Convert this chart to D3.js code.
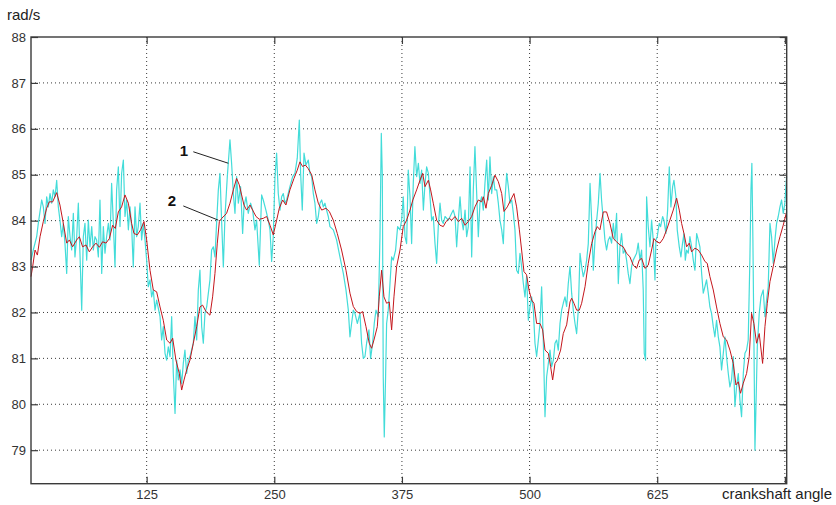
<!DOCTYPE html>
<html>
<head>
<meta charset="utf-8">
<script src="https://cdn.jsdelivr.net/npm/d3@7.9.0/dist/d3.min.js"></script>
<style>
  body { margin: 0; background: #fff; }
  svg { display: block; font-family: "Liberation Sans", Arial, sans-serif; }
</style>
</head>
<body>
<svg id="chart" width="836" height="505"></svg>
<script>
// measured speed (1), [crankshaft angle, rad/s]
const measured = [
  [11.75,83.14],[14.0,83.36],[17.3,83.65],[18.9,83.94],[22.2,84.45],[23.8,84.30],[25.5,83.94],[27.1,84.52],
  [28.7,84.30],[30.4,84.59],[32.0,84.38],[33.6,84.67],[35.3,84.52],[36.9,84.88],[38.5,84.30],[40.1,84.01],
  [41.8,83.65],[43.4,83.94],[45.0,83.51],[46.7,82.85],[48.3,84.09],[50.0,83.65],[51.6,83.36],[53.2,84.16],
  [54.8,83.21],[56.5,83.65],[58.1,84.38],[59.7,83.29],[61.4,82.05],[63.0,83.65],[64.6,83.94],[66.3,83.14],
  [67.9,84.01],[69.5,83.43],[71.2,83.87],[72.8,83.36],[74.4,83.65],[76.0,83.58],[77.7,83.21],[79.3,84.45],
  [81.0,82.85],[82.6,83.87],[84.2,83.29],[85.8,83.65],[87.5,83.94],[89.1,83.58],[90.7,84.81],[92.4,83.94],
  [94.0,82.99],[95.6,84.67],[97.3,85.17],[98.9,83.87],[100.5,85.03],[102.2,85.32],[103.8,84.09],[105.4,84.45],
  [107.1,83.80],[108.7,84.30],[110.3,83.87],[111.9,82.99],[113.6,84.30],[115.2,83.65],[116.8,83.87],[118.5,84.38],
  [120.1,83.58],[121.7,83.94],[123.4,83.58],[125.0,83.14],[126.6,82.56],[128.3,82.71],[129.9,82.34],[131.5,82.49],
  [133.2,82.05],[134.8,82.27],[138.1,81.91],[139.7,81.40],[141.3,81.69],[143.0,81.11],[144.6,80.96],[146.2,81.25],
  [147.9,81.04],[149.5,81.91],[151.1,80.67],[152.8,79.80],[154.4,80.96],[156.0,80.53],[157.7,80.75],[159.3,80.45],
  [160.9,80.89],[162.5,81.18],[164.2,80.67],[165.8,80.96],[167.4,81.04],[170.7,81.33],[172.3,81.91],[174.0,81.40],
  [175.6,82.49],[177.2,82.92],[178.9,81.69],[180.5,81.33],[182.1,81.98],[183.8,82.12],[187.0,82.71],[188.6,83.36],
  [190.3,83.43],[191.9,83.21],[193.5,83.94],[195.2,84.67],[196.8,85.03],[198.4,84.01],[200.1,82.99],[201.7,84.09],
  [204.0,84.96],[206.6,85.76],[208.2,85.25],[209.9,84.59],[211.5,84.16],[213.1,84.96],[214.8,84.38],[217.0,84.74],
  [219.0,83.72],[220.3,84.30],[222.3,84.52],[224.5,84.16],[226.8,84.38],[228.8,84.23],[231.1,83.80],[232.7,84.01],
  [235.3,83.03],[237.6,84.56],[239.2,84.45],[241.8,84.23],[244.1,84.01],[245.8,83.80],[247.4,83.11],[249.0,83.65],
  [250.7,84.96],[252.3,85.47],[253.9,84.59],[255.6,84.23],[257.2,84.52],[258.8,84.59],[260.5,84.38],[262.1,84.45],
  [265.3,84.74],[268.0,84.96],[270.2,85.03],[272.5,85.36],[274.5,86.19],[275.8,85.03],[277.4,84.23],[279.1,85.47],
  [281.0,85.21],[283.3,85.32],[284.9,85.03],[286.6,84.96],[288.2,84.59],[289.8,84.38],[291.5,83.94],[293.1,84.09],
  [294.7,84.38],[296.4,84.45],[298.0,84.30],[299.6,84.38],[301.2,84.23],[302.9,84.09],[304.5,83.87],[307.8,83.80],
  [311.0,83.58],[314.3,83.21],[317.6,82.85],[320.2,82.49],[322.5,82.05],[324.1,81.47],[325.7,81.76],[327.4,82.05],
  [329.0,81.98],[331.3,81.76],[333.9,81.98],[335.5,81.33],[337.2,81.00],[338.8,81.04],[340.4,81.33],[342.7,81.62],
  [344.3,81.00],[346.3,81.33],[347.9,81.76],[349.6,82.05],[351.8,81.91],[353.5,83.65],[354.8,85.90],[355.8,84.96],
  [356.7,80.60],[357.7,79.29],[359.0,80.60],[360.0,81.76],[361.6,82.05],[363.3,82.63],[364.9,83.21],[366.5,83.14],
  [368.8,83.36],[370.8,83.87],[373.1,83.80],[374.7,84.01],[376.3,84.52],[378.0,83.65],[379.6,83.50],[381.2,85.10],
  [382.9,84.52],[384.5,83.50],[386.1,84.81],[387.7,85.61],[389.4,84.96],[391.1,85.25],[392.7,84.81],[394.3,85.10],
  [396.0,84.23],[397.6,84.81],[399.2,85.17],[400.9,85.03],[402.5,84.52],[404.1,84.01],[405.7,84.09],[407.4,83.50],
  [409.0,83.07],[410.6,83.87],[412.3,84.38],[413.9,84.01],[415.5,83.94],[417.2,84.09],[420.4,84.01],[423.7,84.16],
  [425.3,84.23],[427.0,84.09],[428.6,83.43],[430.2,84.01],[431.9,84.52],[433.5,84.01],[435.1,83.80],[436.8,84.23],
  [438.4,83.65],[440.0,83.87],[441.7,85.17],[443.3,83.21],[444.9,84.67],[446.5,85.61],[448.2,84.59],[449.8,83.65],
  [451.4,84.38],[453.1,84.52],[454.7,84.23],[456.3,84.81],[458.0,85.32],[459.6,84.45],[461.2,85.39],[462.9,84.59],
  [464.5,84.96],[466.1,84.67],[467.8,84.67],[469.4,84.38],[471.0,84.01],[472.7,83.80],[474.3,83.50],[475.9,84.45],
  [477.6,85.03],[479.2,84.74],[480.8,84.38],[482.5,84.45],[484.1,84.16],[485.7,83.80],[487.3,82.92],[489.0,82.85],
  [490.6,83.29],[492.2,83.00],[493.9,82.63],[495.5,82.34],[497.1,82.78],[498.8,81.83],[500.4,82.12],[502.0,82.34],
  [503.7,82.05],[505.3,81.33],[506.9,81.04],[508.6,81.40],[510.2,81.76],[511.8,82.56],[513.5,81.33],[515.1,79.73],
  [516.7,80.60],[518.4,80.89],[520.0,81.18],[521.6,80.82],[523.3,80.96],[524.9,81.33],[526.5,81.40],[528.1,81.18],
  [529.8,81.76],[531.4,82.05],[533.0,82.20],[534.7,82.34],[536.3,82.13],[537.9,82.63],[539.6,83.00],[541.2,82.42],
  [542.8,82.05],[544.5,81.76],[546.1,81.54],[547.7,82.05],[549.4,83.29],[551.0,83.00],[552.6,82.78],[554.3,82.92],
  [555.9,83.14],[557.5,83.50],[559.2,84.81],[560.8,84.01],[562.4,82.92],[564.1,83.58],[565.7,84.01],[567.3,84.38],
  [569.0,85.03],[570.5,84.45],[572.2,84.01],[573.8,83.58],[575.4,83.36],[577.1,83.58],[578.7,83.65],[580.3,83.51],
  [582.0,83.94],[583.6,83.58],[585.2,84.16],[586.9,82.63],[588.5,83.43],[590.1,83.72],[591.7,83.29],[593.4,83.36],
  [595.0,83.14],[596.6,82.85],[598.3,82.63],[599.9,83.00],[601.5,83.14],[604.8,83.29],[606.4,83.51],[608.1,83.14],
  [609.7,83.36],[611.3,82.49],[612.3,81.11],[613.6,80.96],[614.6,84.52],[616.2,83.87],[617.9,83.43],[619.5,84.01],
  [621.1,83.58],[622.8,82.71],[623.7,83.58],[625.0,83.65],[627.0,83.94],[628.3,83.87],[630.3,84.09],[631.6,84.01],
  [633.5,83.72],[635.2,84.23],[636.8,85.17],[638.4,84.30],[640.1,84.74],[641.4,84.88],[643.3,84.52],[644.6,83.80],
  [646.6,83.43],[648.2,83.21],[649.8,83.51],[651.2,83.72],[652.5,83.14],[653.8,83.36],[655.4,83.29],[657.0,83.65],
  [658.7,83.43],[660.3,83.14],[661.9,82.92],[663.6,83.72],[665.2,83.58],[666.8,83.43],[668.5,82.85],[670.1,82.42],
  [671.7,82.56],[673.3,82.71],[675.0,82.42],[676.6,82.12],[678.2,81.98],[679.9,81.69],[681.5,81.47],[683.1,81.83],
  [684.8,81.47],[686.4,81.25],[688.0,80.75],[689.7,81.11],[691.3,81.47],[692.9,81.04],[694.6,80.67],[696.2,80.38],
  [697.8,80.53],[699.5,81.04],[701.1,79.95],[702.7,80.38],[704.4,80.67],[706.0,80.09],[707.6,79.73],[709.3,80.67],
  [710.9,81.11],[712.5,81.18],[714.1,81.40],[715.8,83.21],[716.8,84.67],[717.7,85.25],[718.7,83.58],[719.7,81.40],
  [720.7,79.00],[721.7,79.95],[723.0,81.25],[724.9,81.98],[726.6,82.34],[728.8,82.49],[730.5,81.91],[732.1,82.27],
  [733.7,82.56],[735.4,83.94],[737.0,83.65],[738.6,83.07],[740.3,83.58],[741.9,83.94],[743.5,84.09],[745.2,84.30],
  [746.8,84.45],[748.4,84.16],[750.0,84.38],[751.7,84.96]
];

// filtered speed (2), [crankshaft angle, rad/s]
const filtered = [
  [11.75,82.78],[13.4,83.00],[15.7,83.36],[18.0,83.25],[20.6,83.65],[23.8,83.98],[27.1,84.27],[29.7,84.41],
  [33.0,84.41],[36.9,84.61],[40.1,84.34],[43.4,83.94],[46.7,83.51],[49.3,83.58],[52.5,83.43],[56.5,83.58],
  [59.1,83.65],[62.3,83.43],[65.6,83.47],[68.9,83.32],[72.1,83.43],[75.4,83.51],[78.7,83.42],[81.9,83.54],
  [85.2,83.51],[88.5,83.61],[91.7,83.90],[94.3,83.83],[97.3,84.19],[100.5,84.30],[103.8,84.56],[107.1,84.38],
  [110.3,83.94],[112.6,83.72],[115.9,83.69],[119.1,83.80],[122.4,83.98],[125.0,83.58],[128.3,82.92],[131.5,82.49],
  [134.8,82.45],[138.1,82.12],[141.3,81.83],[144.6,81.40],[147.9,81.33],[150.5,81.44],[153.7,80.96],[157.0,80.67],
  [159.3,80.31],[161.6,80.53],[164.2,80.75],[167.4,80.96],[170.7,81.33],[174.0,81.69],[177.2,82.12],[179.8,82.16],
  [183.1,82.02],[187.0,81.94],[189.6,82.34],[191.9,82.85],[194.2,83.51],[196.2,83.98],[198.5,84.05],[201.7,84.12],
  [203.3,84.16],[206.6,84.38],[209.9,84.67],[213.1,84.92],[215.7,84.78],[218.0,84.56],[220.3,84.34],[222.9,84.23],
  [226.2,84.34],[228.8,84.23],[232.1,84.09],[235.3,84.03],[239.2,84.05],[242.5,84.09],[245.8,83.90],[249.0,83.69],
  [252.3,84.01],[254.9,84.27],[258.2,84.45],[261.4,84.34],[265.3,84.67],[269.3,84.92],[272.5,85.10],[275.1,85.28],
  [277.7,85.18],[280.4,85.21],[283.0,85.14],[286.6,85.00],[289.8,84.67],[293.1,84.38],[296.4,84.23],[300.6,84.27],
  [303.9,84.20],[307.8,84.01],[311.7,83.72],[315.9,83.36],[320.2,82.92],[324.1,82.42],[327.4,82.13],[330.6,82.02],
  [333.9,81.98],[336.5,82.02],[339.8,81.69],[343.0,81.33],[345.3,81.22],[347.6,81.40],[350.9,81.69],[352.8,82.34],
  [355.1,82.92],[357.4,82.34],[360.0,82.20],[362.6,82.23],[364.9,81.62],[367.2,82.34],[369.8,83.00],[373.1,83.36],
  [376.3,83.87],[379.6,84.01],[382.9,84.23],[385.7,84.45],[389.4,84.67],[392.7,84.88],[395.3,85.03],[397.6,84.74],
  [400.9,84.88],[403.1,84.67],[405.7,84.38],[409.0,84.01],[412.3,83.90],[415.5,83.87],[418.2,83.98],[421.4,84.05],
  [423.7,84.01],[427.0,84.09],[430.2,83.98],[433.5,84.05],[436.8,83.90],[440.0,83.98],[443.3,84.09],[446.5,84.30],
  [449.8,84.45],[453.1,84.41],[454.7,84.52],[457.3,84.27],[459.6,84.59],[462.9,84.77],[466.1,84.99],[469.4,84.85],
  [472.7,84.59],[474.9,84.20],[478.2,84.30],[481.5,84.45],[484.7,84.59],[487.3,84.30],[490.0,83.80],[492.2,83.36],
  [494.5,82.89],[497.1,82.82],[499.4,82.49],[502.0,82.27],[504.3,82.20],[506.9,81.76],[510.2,81.76],[512.8,81.62],
  [515.1,81.18],[518.4,81.11],[520.6,80.82],[522.6,80.53],[524.9,80.89],[527.2,80.96],[530.4,81.18],[533.0,81.54],
  [536.3,81.73],[539.6,82.23],[541.2,82.31],[543.5,82.20],[546.1,82.05],[548.7,82.05],[551.0,82.20],[554.3,82.56],
  [557.5,83.07],[560.8,83.50],[564.1,83.76],[566.3,83.87],[568.9,83.80],[572.2,84.19],[575.4,84.19],[578.7,83.94],
  [582.0,83.61],[585.2,83.54],[588.5,83.47],[591.7,83.43],[595.0,83.29],[598.3,83.21],[601.5,83.03],[604.8,82.96],
  [607.4,83.14],[609.7,83.18],[613.0,82.96],[616.2,83.03],[619.5,83.36],[621.8,83.61],[624.4,83.54],[627.7,83.51],
  [630.9,83.61],[634.2,83.80],[637.4,84.01],[640.7,84.23],[644.0,84.49],[646.6,84.23],[648.9,83.94],[651.2,83.72],
  [653.8,83.43],[656.4,83.51],[658.7,83.32],[661.9,83.40],[665.2,83.36],[668.5,83.25],[671.7,83.11],[674.0,83.07],
  [676.6,82.78],[679.9,82.49],[683.1,82.12],[686.4,81.76],[689.7,81.47],[692.9,81.40],[696.2,81.18],[699.5,80.89],
  [702.1,80.42],[704.4,80.49],[706.6,80.24],[709.3,80.46],[712.5,80.67],[715.1,81.04],[717.4,81.98],[719.7,81.76],
  [722.3,81.33],[724.9,81.54],[728.2,80.89],[730.5,81.69],[732.8,82.20],[735.4,82.67],[738.6,83.00],[741.9,83.36],
  [745.2,83.65],[748.4,83.90],[751.7,84.19]
];

const xTicks = [125, 250, 375, 500, 625, 750];
const yTicks = [79, 80, 81, 82, 83, 84, 85, 86, 87, 88];
const xDomain = [11.75, 751.8];
const yDomain = [78.27, 88];

// curve labels: text anchor point and leader line end points
const labels = [
  { text: "1", at: [161.6, 85.41], from: [170.7, 85.50], to: [205.0, 85.25] },
  { text: "2", at: [149.8, 84.32], from: [160.9, 84.32], to: [195.2, 84.01] }
];

const svg = d3.select("#chart");
const margin = { top: 37, right: 49.3, bottom: 21.3, left: 31 };
const width = 836 - margin.left - margin.right;
const height = 505 - margin.top - margin.bottom;

const g = svg.append("g").attr("transform", `translate(${margin.left},${margin.top})`);

const x = d3.scaleLinear().domain(xDomain).range([0, width]);
const y = d3.scaleLinear().domain(yDomain).range([height, 0]);

// dotted grid
g.append("g").selectAll("line")
  .data(yTicks.filter(d => d < 88))
  .join("line")
  .attr("x1", 0).attr("x2", width)
  .attr("y1", d => y(d)).attr("y2", d => y(d))
  .attr("stroke", "#222").attr("stroke-width", 0.9)
  .attr("stroke-dasharray", "1,3");

g.append("g").selectAll("line")
  .data(xTicks)
  .join("line")
  .attr("x1", d => x(d)).attr("x2", d => x(d))
  .attr("y1", 0).attr("y2", height)
  .attr("stroke", "#222").attr("stroke-width", 0.9)
  .attr("stroke-dasharray", "1,3");

// series
const line = d3.line().x(d => x(d[0])).y(d => y(d[1]));

g.append("path")
  .datum(measured)
  .attr("fill", "none")
  .attr("stroke", "#43dcd9")
  .attr("stroke-width", 1.2)
  .attr("stroke-linejoin", "round")
  .attr("d", line);

g.append("path")
  .datum(filtered)
  .attr("fill", "none")
  .attr("stroke", "#c4161c")
  .attr("stroke-width", 1)
  .attr("stroke-linejoin", "round")
  .attr("d", line);

// axes with inward ticks
const axisColor = "#3a3a3a";
const styleAxis = sel => {
  sel.select(".domain").remove();
  sel.selectAll(".tick line").attr("stroke", axisColor).attr("stroke-width", 1.2);
  sel.selectAll(".tick text").attr("fill", "#333").style("font-size", "13px");
};

g.append("g")
  .attr("transform", `translate(0,${height})`)
  .call(d3.axisBottom(x).tickValues(xTicks).tickSize(-7).tickPadding(6)
    .tickFormat(d => d === 750 ? "" : d))
  .call(styleAxis);

g.append("g")
  .call(d3.axisTop(x).tickValues(xTicks).tickSize(-7).tickFormat(""))
  .call(styleAxis);

g.append("g")
  .call(d3.axisLeft(y).tickValues(yTicks).tickSize(-7).tickPadding(5))
  .call(styleAxis);

g.append("g")
  .attr("transform", `translate(${width},0)`)
  .call(d3.axisRight(y).tickValues(yTicks).tickSize(-7).tickFormat(""))
  .call(styleAxis);

// box
g.append("rect")
  .attr("width", width).attr("height", height)
  .attr("fill", "none")
  .attr("stroke", axisColor)
  .attr("stroke-width", 1.4);

// axis titles
svg.append("text")
  .attr("x", 7).attr("y", 20)
  .style("font-size", "15px").attr("fill", "#222")
  .text("rad/s");

svg.append("text")
  .attr("x", 832).attr("y", 499)
  .attr("text-anchor", "end")
  .style("font-size", "15px").attr("fill", "#222")
  .text("crankshaft angle");

// curve labels
const ann = g.append("g");
labels.forEach(l => {
  ann.append("text")
    .attr("x", x(l.at[0])).attr("y", y(l.at[1]))
    .attr("text-anchor", "middle")
    .style("font-size", "15px").style("font-weight", "bold")
    .attr("fill", "#111")
    .text(l.text);
  ann.append("line")
    .attr("x1", x(l.from[0])).attr("y1", y(l.from[1]))
    .attr("x2", x(l.to[0])).attr("y2", y(l.to[1]))
    .attr("stroke", "#222").attr("stroke-width", 1);
});
</script>
</body>
</html>
